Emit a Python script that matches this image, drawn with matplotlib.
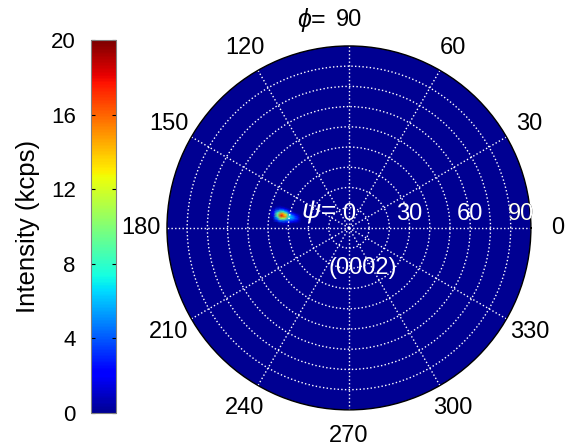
import numpy as np
import matplotlib
matplotlib.use('Agg')
import matplotlib.pyplot as plt
from matplotlib.colors import ListedColormap

plt.rcParams['font.family'] = ['Liberation Sans', 'DejaVu Sans']
plt.rcParams['mathtext.fontset'] = 'custom'
plt.rcParams['mathtext.it'] = 'Liberation Sans:italic'
plt.rcParams['mathtext.rm'] = 'Liberation Sans'

# (0002) pole figure: one spot near psi ~ 33, phi ~ 170
psi_grid = [24, 26, 28, 30, 32, 34, 36, 38, 40]
phi_grid = [162, 164, 166, 168, 170, 172, 174, 176, 178]
# rows = phi, cols = psi, kcps
intensity = [
    [0, 0, 0, 0, 0, 0, 0, 0, 0],
    [0, 0, 0, 1, 2, 2, 1, 0, 0],
    [0, 1, 2, 3, 6, 7, 4, 1, 0],
    [0, 2, 4, 6, 12, 15, 8, 2, 0],
    [0, 3, 5, 7, 15, 18, 10, 2, 0],
    [0, 2, 4, 5, 10, 12, 6, 1, 0],
    [0, 1, 2, 3, 4, 5, 3, 0, 0],
    [0, 0, 0, 1, 1, 1, 0, 0, 0],
    [0, 0, 0, 0, 0, 0, 0, 0, 0],
]
cbar_ticks = [0, 4, 8, 12, 16, 20]
phi_ticks = [0, 30, 60, 90, 120, 150, 180, 210, 240, 270, 300, 330]
psi_labels = [30, 60]
psi_rings = [10, 20, 30, 40, 50, 60, 70, 80]

# matlab-like jet (starts a bit brighter than mpl jet)
cmap = ListedColormap(plt.get_cmap('jet')(np.linspace(0.016, 1, 256)))
fs = 16
fs_pol = 17

fig = plt.figure(figsize=(5.66, 4.48), dpi=100)
ax = fig.add_axes([0.295, 0.085, 0.643, 0.8125], projection='polar')
ax.set_facecolor(cmap(0.0))

P, T = np.meshgrid(psi_grid, np.deg2rad(phi_grid))
mesh = ax.pcolormesh(T, P, np.array(intensity, dtype=float), cmap=cmap,
                     vmin=0, vmax=20, shading='gouraud', zorder=1)

ax.set_ylim(0, 90)
ax.set_thetagrids(phi_ticks, labels=[''] * len(phi_ticks))
ax.set_rgrids(psi_rings, labels=[''] * len(psi_rings))
ax.grid(True, color='white', linestyle=':', linewidth=1.0)
ax.spines['polar'].set_color('black')
ax.spines['polar'].set_linewidth(1.0)
ax.tick_params(length=0)

# phi labels around the circle
for a in phi_ticks:
    ax.text(np.deg2rad(a), 103, str(a), ha='center', va='center',
            fontsize=fs_pol, clip_on=False)
ax.annotate(r'$\phi$=', xy=(np.pi / 2, 103), xytext=(-16, 0),
            textcoords='offset points', ha='right', va='center',
            fontsize=fs_pol + 1, annotation_clip=False)

# psi labels along phi = 0
ax.annotate('0', xy=(0, 0), xytext=(0, 2), textcoords='offset points',
            ha='center', va='bottom', color='white', fontsize=fs_pol)
ax.annotate(r'$\psi$=', xy=(0, 0), xytext=(-9, 2), textcoords='offset points',
            ha='right', va='bottom', color='white', fontsize=fs_pol + 2)
for p in psi_labels:
    ax.annotate(str(p), xy=(0, p), xytext=(0, 2), textcoords='offset points',
                ha='center', va='bottom', color='white', fontsize=fs_pol)
# "90" sits on the rim: white inside the circle, black outside
t_out = ax.annotate('90', xy=(0, 90), xytext=(-7, 2), textcoords='offset points',
                    ha='center', va='bottom', color='black', fontsize=fs_pol,
                    annotation_clip=False, zorder=4)
t_out.set_clip_on(False)
t_in = ax.annotate('90', xy=(0, 90), xytext=(-7, 2), textcoords='offset points',
                   ha='center', va='bottom', color='white', fontsize=fs_pol,
                   annotation_clip=False, zorder=5)
t_in.set_clip_path(ax.patch)
ax.annotate('(0002)', xy=(0, 0), xytext=(10, -29), textcoords='offset points',
            ha='center', va='center', color='white', fontsize=fs_pol)

# colorbar
cax = fig.add_axes([0.1608, 0.078, 0.0442, 0.833])
cb = fig.colorbar(mesh, cax=cax, ticks=cbar_ticks)
cb.outline.set_edgecolor('0.5')
cb.outline.set_linewidth(0.8)
cax.yaxis.set_ticks_position('left')
cax.yaxis.set_label_position('left')
cax.tick_params(direction='in', length=3, labelsize=fs, pad=11,
                left=True, right=True, labelleft=True, labelright=False)
cax.set_ylabel('Intensity (kcps)', fontsize=18.5, labelpad=8)

fig.savefig('out.png', dpi=100)
